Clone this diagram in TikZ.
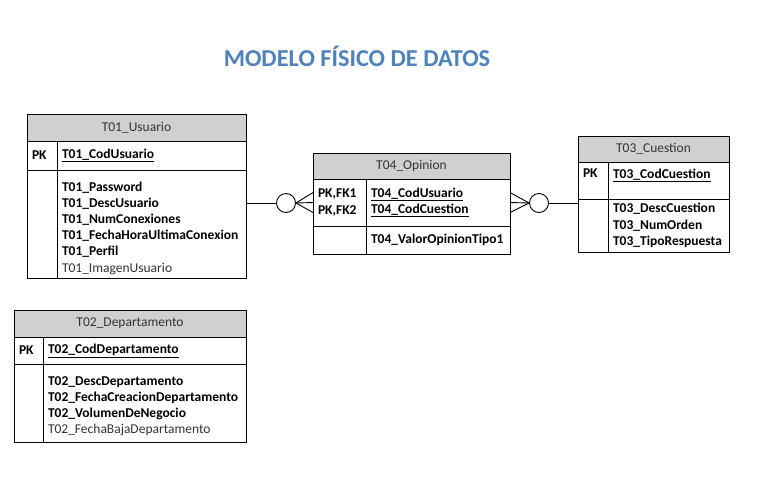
\documentclass[tikz,border=0pt]{standalone}
\usepackage{fontspec}
\setmainfont{Carlito}
\usetikzlibrary{calc,shapes,positioning}
\definecolor{titulo}{RGB}{79,129,189}
\definecolor{cabecera}{RGB}{208,208,208}
\hyphenpenalty=10000
\exhyphenpenalty=10000

\begin{document}
\begin{tikzpicture}[x=1pt,y=-1pt]
          \useasboundingbox (0,0) rectangle (757,491);

          \tikzstyle{every node}=[font=\fontsize{13.5}{16.2}\selectfont, inner xsep=5pt, inner ysep=0pt]
          \tikzstyle{tabla}=[draw, line width=1pt, outer sep=0pt, anchor=north west, align=left]
          \tikzstyle{cab}=[tabla, fill=cabecera, align=center, text=black!80]
          \tikzstyle{rel}=[-, line width=0.9pt]
          \tikzstyle{cero}=[draw, circle, line width=0.9pt, minimum size=19pt, inner sep=0pt, fill=white]

          % titulo
          \node[font=\fontsize{24.3}{29}\selectfont\bfseries, text=titulo] (titulo) at (357,56) {MODELO FÍSICO DE DATOS};

          % tabla T01_Usuario
          \node[cab, minimum width=219pt, minimum height=27pt] (U) at (27,114) {T01\_Usuario};
          \node[tabla, text width=20pt, minimum height=29pt] (Upkc) at (27,141) {\textbf{PK}};
          \node[tabla, text width=179pt, minimum height=29pt] (Upk) at (57,141) {\textbf{\underline{T01\_CodUsuario}}};
          \node[tabla, text width=20pt, minimum height=108pt] (Ucol) at (27,170) {};
          \node[tabla, text width=179pt, minimum height=108pt, text height=17.5pt] (Uatr) at (57,170)
                {\textbf{T01\_Password}\\ \textbf{T01\_DescUsuario}\\ \textbf{T01\_NumConexiones}\\
                 \textbf{T01\_FechaHoraUltimaConexion}\\ \textbf{T01\_Perfil}\\ {\color{black!80}T01\_ImagenUsuario}};

          % tabla T04_Opinion
          \node[cab, minimum width=197pt, minimum height=26pt] (O) at (313,153) {T04\_Opinion};
          \node[tabla, text width=43pt, minimum height=47pt] (Opkc) at (313,179) {\textbf{PK,FK1}\\ \textbf{PK,FK2}};
          \node[tabla, text width=134pt, minimum height=47pt] (Opk) at (366,179)
                {\textbf{\underline{T04\_CodUsuario}}\\ \textbf{\underline{T04\_CodCuestion}}};
          \node[tabla, text width=43pt, minimum height=28pt] (Ocol) at (313,226) {};
          \node[tabla, text width=134pt, minimum height=28pt] (Oatr) at (366,226) {\textbf{T04\_ValorOpinionTipo1}};

          % tabla T03_Cuestion
          \node[cab, minimum width=151pt, minimum height=26pt] (Q) at (578,136) {T03\_Cuestion};
          \node[tabla, text width=20pt, minimum height=37pt, text depth=14pt] (Qpkc) at (578,162) {\textbf{PK}};
          \node[tabla, text width=111pt, minimum height=37pt, text depth=14pt] (Qpk) at (608,162) {\textbf{\underline{T03\_CodCuestion}}};
          \node[tabla, text width=20pt, minimum height=53pt] (Qcol) at (578,199) {};
          \node[tabla, text width=111pt, minimum height=53pt] (Qatr) at (608,199)
                {\textbf{T03\_DescCuestion}\\ \textbf{T03\_NumOrden}\\ \textbf{T03\_TipoRespuesta}};

          % tabla T02_Departamento
          \node[cab, minimum width=232pt, minimum height=27pt] (D) at (14,310) {T02\_Departamento};
          \node[tabla, text width=19pt, minimum height=27pt] (Dpkc) at (14,337) {\textbf{PK}};
          \node[tabla, text width=193pt, minimum height=27pt] (Dpk) at (43,337) {\textbf{\underline{T02\_CodDepartamento}}};
          \node[tabla, text width=19pt, minimum height=78pt] (Dcol) at (14,364) {};
          \node[tabla, text width=193pt, minimum height=78pt, text height=15.5pt] (Datr) at (43,364)
                {\textbf{T02\_DescDepartamento}\\ \textbf{T02\_FechaCreacionDepartamento}\\
                 \textbf{T02\_VolumenDeNegocio}\\ {\color{black!80}T02\_FechaBajaDepartamento}};

          % relaciones
          \node[cero] (c1) at (286,203) {};
          \node[cero] (c2) at (539,203) {};

          \draw[rel] (Uatr.east |- c1) -- (c1.west);
          \foreach \d in {-10,0,10}
                \draw[rel] (c1.east) -- ($(Opkc.west)+(0,\d)$);

          \foreach \d in {-10,0,10}
                \draw[rel] (c2.west) -- ($(Opk.east)+(0,\d)$);
          \draw[rel] (c2.east) -- (c2 -| Qpkc.west);

\end{tikzpicture}
\end{document}
